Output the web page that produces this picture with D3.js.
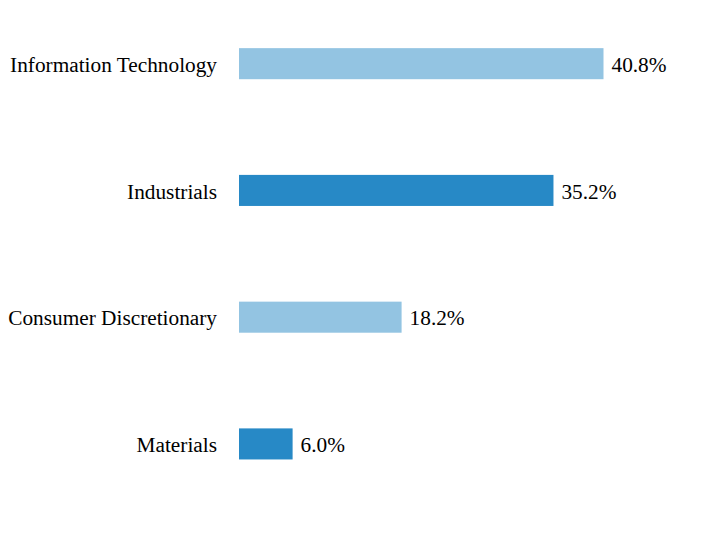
<!DOCTYPE html>
<html>
<head>
<meta charset="utf-8">
<script src="https://cdn.jsdelivr.net/npm/d3@7"></script>
<style>
  body { margin: 0; background: #fff; }
  svg text { font-family: "Liberation Serif", "Times New Roman", serif; font-size: 21.3px; fill: #000; }
</style>
</head>
<body>
<svg id="canvas" width="716" height="552"></svg>
<script>
let categories = ["Information Technology", "Industrials", "Consumer Discretionary", "Materials"]
let values = [40.8, 35.2, 18.2, 6.0]
let colors = ["#93c4e2", "#2789c6", "#93c4e2", "#2789c6"]

let canvas = d3.select("#canvas")

let x = d3.scaleLinear()
    .domain([0, 40.8])
    .range([239, 603.5])

let y = d3.scaleBand()
    .domain(categories)
    .range([0.3, 507.3])
    .paddingInner(0.755)
    .paddingOuter(0.3775)

let rows = categories.map((c, i) => ({ cat: c, val: values[i], color: colors[i] }))

canvas.selectAll("rect")
    .data(rows)
    .enter()
    .append("rect")
    .attr("x", x(0))
    .attr("y", (d) => y(d.cat))
    .attr("width", (d) => x(d.val) - x(0))
    .attr("height", y.bandwidth())
    .attr("fill", (d) => d.color)

canvas.selectAll(".cat")
    .data(rows)
    .enter()
    .append("text")
    .attr("class", "cat")
    .attr("x", 217)
    .attr("y", (d) => y(d.cat) + y.bandwidth() / 2)
    .attr("dy", "0.38em")
    .attr("text-anchor", "end")
    .text((d) => d.cat)

canvas.selectAll(".val")
    .data(rows)
    .enter()
    .append("text")
    .attr("class", "val")
    .attr("x", (d) => x(d.val) + 8)
    .attr("y", (d) => y(d.cat) + y.bandwidth() / 2)
    .attr("dy", "0.38em")
    .text((d) => d.val.toFixed(1) + "%")
</script>
</body>
</html>
